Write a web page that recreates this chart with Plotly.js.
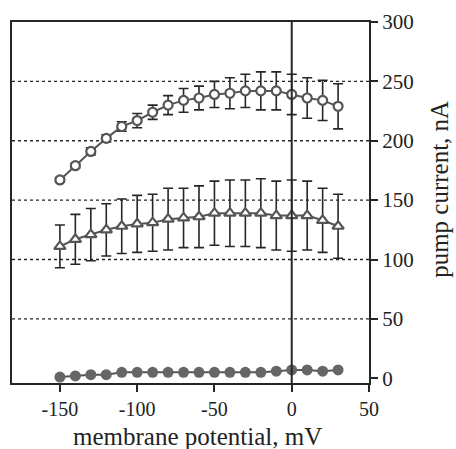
<!DOCTYPE html>
<html><head><meta charset="utf-8">
<script src="https://cdn.plot.ly/plotly-3.0.1.min.js"></script>
<style>html,body{margin:0;padding:0;background:#fff}</style>
</head><body><div id="c" style="width:456px;height:449px"></div>
<script>
const potential = [-150,-140,-130,-120,-110,-100,-90,-80,-70,-60,-50,-40,-30,-20,-10,0,10,20,30];
const openCircle = [167,179,191,202,212,217,224,230,234,236,239,240,242,242,242,239,236,234,229];
const openCircleErr = [2,2,3,3,4,6,6,8,10,10,11,13,14,16,16,17,17,17,19];
const triangle = [111,117,121,125,128,130,131,134,135,136,139,139,139,139,137,137,137,133,128];
const triangleErr = [18,21,22,22,23,24,24,26,25,26,27,28,28,29,29,30,29,27,27];
const filledCircle = [1,2,3,3,5,5,5,5,5,5,5,5,5,5,6,7,7,6,7];
const yTicks = [0,50,100,150,200,250,300];
const xTicks = [-150,-100,-50,0,50];
const gridLevels = [50,100,150,200,250];
const xTitle = 'membrane potential, mV';
const yTitle = 'pump current, nA';

const gray = '#555555', ink = '#262626';
const errStyle = arr => ({type:'data', array:arr, visible:true, color:ink, thickness:1.6, width:5});
const traces = [
  {x:potential, y:openCircle, error_y:errStyle(openCircleErr), mode:'lines+markers', type:'scatter',
   line:{color:gray,width:2}, marker:{symbol:'circle', size:9, color:'#ffffff', line:{width:2.2,color:gray}}},
  {x:potential, y:triangle, error_y:errStyle(triangleErr), mode:'lines+markers', type:'scatter',
   line:{color:gray,width:2}, marker:{symbol:'triangle-up', size:10, color:'#ffffff', line:{width:2.2,color:gray}}},
  {x:potential, y:filledCircle, mode:'lines+markers', type:'scatter',
   line:{color:gray,width:2}, marker:{symbol:'circle', size:11, color:'#666666', line:{width:0}}}
];
const shapes = gridLevels.map(v => ({type:'line', xref:'paper', x0:0, x1:1, yref:'y', y0:v, y1:v,
  line:{color:ink, width:1.3, dash:'3px,3px'}, layer:'below'}));
shapes.push({type:'line', xref:'x', x0:0, x1:0, yref:'paper', y0:0, y1:1, line:{color:ink, width:2}});
const fam = '"Liberation Serif", "Times New Roman", serif';
const layout = {
  width:456, height:449, showlegend:false,
  margin:{l:12, r:87, t:22, b:66},
  paper_bgcolor:'#fff', plot_bgcolor:'#fff',
  font:{family:fam, color:'#222'},
  xaxis:{range:[-181,50], tickvals:xTicks, ticktext:xTicks.map(String), ticks:'outside', ticklen:7, tickwidth:2,
    tickcolor:ink, showline:true, linecolor:ink, linewidth:2, mirror:true, showgrid:false, zeroline:false,
    tickfont:{size:20, family:fam, color:'#222'}},
  yaxis:{range:[-4,300], side:'right', tickvals:yTicks, ticktext:yTicks.map(String), ticks:'outside', ticklen:7, tickwidth:2,
    tickcolor:ink, showline:true, linecolor:ink, linewidth:2, mirror:true, showgrid:false, zeroline:false,
    tickfont:{size:21, family:fam, color:'#222'}},
  shapes:shapes,
  annotations:[
    {text:xTitle, xref:'paper', yref:'paper', x:0.52, y:0, yshift:-53, xanchor:'center', yanchor:'middle',
     showarrow:false, font:{size:25, family:fam, color:'#222'}, borderpad:0},
    {text:yTitle, xref:'paper', yref:'paper', x:1, xshift:71, y:0.535, xanchor:'center', yanchor:'middle',
     textangle:-90, showarrow:false, font:{size:25, family:fam, color:'#222'}}
  ]
};
Plotly.newPlot('c', traces, layout, {displayModeBar:false, staticPlot:true});
</script></body></html>
